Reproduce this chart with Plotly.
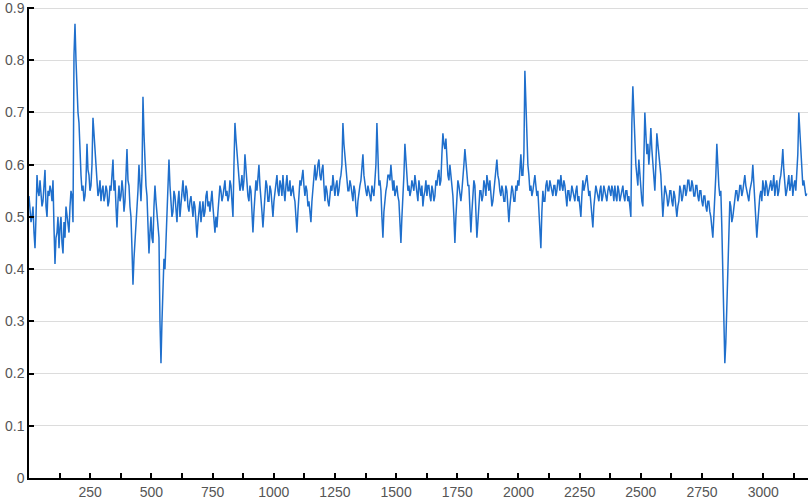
import plotly.graph_objects as go

# Sample spacing of the readings (index units per sample)
SAMPLE_STEP = 4.085

# Values, one per sample from index 0 to ~3178
values = [
    0.54, 0.51, 0.49, 0.50, 0.52, 0.47, 0.44, 0.50, 0.58, 0.55, 0.54, 0.57, 0.55, 0.52, 0.53, 0.56, 0.59, 0.52, 0.50, 0.55,
    0.54, 0.56, 0.55, 0.53, 0.57, 0.48, 0.41, 0.46, 0.47, 0.50, 0.44, 0.48, 0.50, 0.45, 0.43, 0.49, 0.46, 0.52, 0.50, 0.48,
    0.47, 0.52, 0.55, 0.54, 0.49, 0.81, 0.87, 0.80, 0.74, 0.70, 0.68, 0.60, 0.58, 0.55, 0.56, 0.53, 0.54, 0.57, 0.64, 0.59,
    0.58, 0.55, 0.56, 0.60, 0.69, 0.66, 0.62, 0.58, 0.57, 0.54, 0.55, 0.57, 0.53, 0.55, 0.56, 0.53, 0.54, 0.56, 0.55, 0.52,
    0.53, 0.56, 0.55, 0.58, 0.61, 0.55, 0.57, 0.52, 0.48, 0.53, 0.56, 0.53, 0.54, 0.57, 0.55, 0.51, 0.53, 0.58, 0.63, 0.57,
    0.56, 0.52, 0.50, 0.44, 0.37, 0.42, 0.45, 0.48, 0.50, 0.55, 0.60, 0.56, 0.53, 0.58, 0.73, 0.66, 0.60, 0.56, 0.54, 0.49,
    0.43, 0.47, 0.50, 0.46, 0.45, 0.52, 0.56, 0.53, 0.50, 0.48, 0.46, 0.30, 0.22, 0.30, 0.39, 0.42, 0.40, 0.46, 0.50, 0.55,
    0.61, 0.56, 0.53, 0.50, 0.51, 0.55, 0.54, 0.51, 0.49, 0.53, 0.55, 0.50, 0.52, 0.55, 0.57, 0.54, 0.53, 0.56, 0.55, 0.52,
    0.51, 0.53, 0.54, 0.52, 0.50, 0.53, 0.52, 0.49, 0.46, 0.49, 0.51, 0.53, 0.49, 0.51, 0.53, 0.50, 0.51, 0.54, 0.55, 0.52,
    0.53, 0.51, 0.54, 0.55, 0.52, 0.50, 0.47, 0.50, 0.48, 0.51, 0.53, 0.56, 0.55, 0.53, 0.54, 0.56, 0.57, 0.54, 0.55, 0.53,
    0.54, 0.57, 0.56, 0.53, 0.50, 0.60, 0.68, 0.65, 0.62, 0.60, 0.58, 0.55, 0.56, 0.58, 0.55, 0.57, 0.62, 0.59, 0.56, 0.54,
    0.53, 0.56, 0.55, 0.52, 0.47, 0.51, 0.54, 0.57, 0.55, 0.57, 0.60, 0.56, 0.54, 0.51, 0.48, 0.52, 0.54, 0.57, 0.56, 0.53,
    0.53, 0.56, 0.55, 0.53, 0.50, 0.53, 0.55, 0.57, 0.58, 0.55, 0.54, 0.57, 0.56, 0.54, 0.58, 0.55, 0.53, 0.56, 0.58, 0.55,
    0.55, 0.57, 0.54, 0.55, 0.56, 0.54, 0.53, 0.50, 0.47, 0.51, 0.54, 0.57, 0.56, 0.58, 0.59, 0.56, 0.54, 0.56, 0.55, 0.52,
    0.53, 0.51, 0.49, 0.53, 0.56, 0.58, 0.60, 0.57, 0.58, 0.60, 0.61, 0.58, 0.57, 0.59, 0.60, 0.56, 0.53, 0.56, 0.55, 0.53,
    0.52, 0.54, 0.56, 0.55, 0.58, 0.56, 0.54, 0.56, 0.57, 0.54, 0.55, 0.57, 0.58, 0.60, 0.68, 0.64, 0.62, 0.59, 0.57, 0.55,
    0.55, 0.57, 0.56, 0.54, 0.53, 0.56, 0.55, 0.52, 0.50, 0.53, 0.55, 0.56, 0.57, 0.59, 0.62, 0.58, 0.56, 0.55, 0.54, 0.56,
    0.55, 0.54, 0.53, 0.56, 0.55, 0.54, 0.57, 0.60, 0.68, 0.60, 0.56, 0.57, 0.55, 0.50, 0.46, 0.51, 0.54, 0.55, 0.56, 0.58,
    0.58, 0.57, 0.60, 0.57, 0.55, 0.57, 0.54, 0.55, 0.56, 0.54, 0.53, 0.49, 0.45, 0.50, 0.53, 0.58, 0.64, 0.60, 0.58, 0.55,
    0.56, 0.54, 0.55, 0.57, 0.56, 0.55, 0.58, 0.56, 0.55, 0.53, 0.57, 0.55, 0.54, 0.56, 0.52, 0.54, 0.55, 0.57, 0.54, 0.56,
    0.56, 0.54, 0.53, 0.56, 0.55, 0.53, 0.54, 0.57, 0.56, 0.58, 0.59, 0.56, 0.57, 0.62, 0.66, 0.64, 0.63, 0.65, 0.61, 0.58,
    0.57, 0.60, 0.58, 0.56, 0.54, 0.50, 0.45, 0.50, 0.54, 0.57, 0.56, 0.54, 0.53, 0.55, 0.57, 0.60, 0.63, 0.61, 0.59, 0.56,
    0.56, 0.52, 0.47, 0.51, 0.54, 0.57, 0.56, 0.51, 0.46, 0.49, 0.52, 0.55, 0.55, 0.53, 0.54, 0.57, 0.56, 0.54, 0.58, 0.56,
    0.55, 0.57, 0.54, 0.52, 0.53, 0.55, 0.56, 0.59, 0.61, 0.58, 0.57, 0.55, 0.54, 0.56, 0.55, 0.53, 0.53, 0.56, 0.55, 0.52,
    0.49, 0.52, 0.54, 0.56, 0.55, 0.53, 0.53, 0.56, 0.55, 0.57, 0.56, 0.60, 0.62, 0.58, 0.58, 0.62, 0.78, 0.72, 0.65, 0.60,
    0.58, 0.55, 0.56, 0.54, 0.55, 0.57, 0.58, 0.56, 0.54, 0.55, 0.52, 0.48, 0.44, 0.51, 0.55, 0.53, 0.53, 0.56, 0.57, 0.55,
    0.55, 0.57, 0.56, 0.55, 0.54, 0.56, 0.56, 0.54, 0.55, 0.57, 0.57, 0.55, 0.58, 0.56, 0.55, 0.57, 0.56, 0.54, 0.52, 0.55,
    0.55, 0.53, 0.54, 0.56, 0.55, 0.54, 0.53, 0.55, 0.56, 0.53, 0.54, 0.52, 0.50, 0.54, 0.57, 0.55, 0.56, 0.57, 0.58, 0.56,
    0.54, 0.55, 0.53, 0.51, 0.48, 0.52, 0.54, 0.56, 0.55, 0.54, 0.53, 0.55, 0.56, 0.53, 0.54, 0.56, 0.55, 0.54, 0.53, 0.55,
    0.56, 0.55, 0.54, 0.56, 0.55, 0.53, 0.56, 0.54, 0.53, 0.56, 0.55, 0.53, 0.54, 0.55, 0.56, 0.54, 0.53, 0.55, 0.55, 0.53,
    0.54, 0.52, 0.50, 0.68, 0.75, 0.70, 0.64, 0.60, 0.58, 0.56, 0.61, 0.58, 0.56, 0.53, 0.52, 0.62, 0.70, 0.66, 0.62, 0.64,
    0.60, 0.63, 0.67, 0.63, 0.60, 0.58, 0.55, 0.60, 0.66, 0.64, 0.62, 0.60, 0.58, 0.54, 0.50, 0.53, 0.56, 0.55, 0.54, 0.52,
    0.53, 0.55, 0.55, 0.53, 0.52, 0.55, 0.54, 0.52, 0.50, 0.52, 0.53, 0.56, 0.55, 0.53, 0.54, 0.56, 0.56, 0.54, 0.55, 0.57,
    0.57, 0.55, 0.55, 0.57, 0.56, 0.54, 0.54, 0.56, 0.56, 0.54, 0.53, 0.55, 0.55, 0.53, 0.52, 0.54, 0.54, 0.52, 0.51, 0.53,
    0.53, 0.51, 0.50, 0.48, 0.46, 0.50, 0.53, 0.58, 0.64, 0.58, 0.56, 0.54, 0.55, 0.48, 0.41, 0.30, 0.22, 0.26, 0.33, 0.42,
    0.50, 0.53, 0.52, 0.49, 0.50, 0.52, 0.53, 0.55, 0.55, 0.53, 0.54, 0.56, 0.56, 0.54, 0.55, 0.57, 0.58, 0.56, 0.55, 0.54,
    0.53, 0.55, 0.56, 0.57, 0.60, 0.56, 0.53, 0.50, 0.46, 0.49, 0.52, 0.54, 0.55, 0.53, 0.57, 0.55, 0.54, 0.57, 0.56, 0.54,
    0.55, 0.56, 0.57, 0.55, 0.56, 0.58, 0.54, 0.56, 0.57, 0.54, 0.55, 0.57, 0.58, 0.60, 0.63, 0.59, 0.57, 0.54, 0.55, 0.57,
    0.58, 0.55, 0.56, 0.58, 0.54, 0.56, 0.57, 0.55, 0.58, 0.62, 0.70, 0.66, 0.62, 0.58, 0.56, 0.57, 0.55, 0.54, 0.545,
]

x_index = [i * SAMPLE_STEP for i in range(len(values))]

x_tick_vals = [125 * k for k in range(1, 26)]
x_tick_text = [str(v) if v % 250 == 0 else "" for v in x_tick_vals]
y_tick_vals = [0, 0.1, 0.2, 0.3, 0.4, 0.5, 0.6, 0.7, 0.8, 0.9]
y_tick_text = ["0", "0.1", "0.2", "0.3", "0.4", "0.5", "0.6", "0.7", "0.8", "0.9"]

fig = go.Figure()
fig.add_trace(go.Scatter(
    x=x_index, y=values, mode="lines",
    line=dict(color="#1f6fcc", width=1.5),
    showlegend=False, hoverinfo="skip",
))

fig.update_layout(
    width=809, height=503,
    margin=dict(l=29, r=1, t=7, b=25, autoexpand=False),
    paper_bgcolor="white", plot_bgcolor="white",
    font=dict(family="Liberation Sans, Arial, sans-serif", size=14, color="#555555"),
    xaxis=dict(
        range=[0, 3183], tickmode="array", tickvals=x_tick_vals, ticktext=x_tick_text,
        ticks="inside", ticklen=5, tickwidth=1.5, tickcolor="#000000",
        showgrid=False, zeroline=False, automargin=False,
        showline=True, linecolor="#000000", linewidth=1.5,
        tickfont=dict(size=14, color="#555555"),
    ),
    yaxis=dict(
        range=[0, 0.902], tickmode="array", tickvals=y_tick_vals, ticktext=y_tick_text,
        ticks="inside", ticklen=5, tickwidth=1.5, tickcolor="#000000",
        showgrid=True, gridcolor="#dcdcdc", gridwidth=1.2, zeroline=False,
        showline=True, linecolor="#000000", linewidth=1.5, automargin=False,
        ticklabeloverflow="allow",
        tickfont=dict(size=14, color="#555555"),
    ),
)

fig.write_html("out.html", config={"displayModeBar": False},
               post_script="document.body.style.margin='0';")
